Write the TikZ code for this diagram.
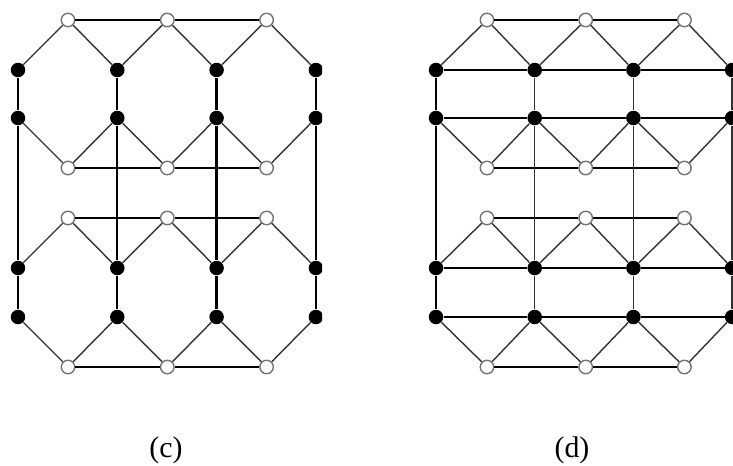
\documentclass[tikz,border=0pt]{standalone}
\usepackage{fontspec}
\usepackage{tikz}
\setmainfont{Liberation Serif}

\begin{document}
\begin{tikzpicture}[x=0.02cm, y=-0.02cm,
					full/.style = {shape=circle, fill=black, inner sep=0pt, minimum size=0.29cm},
					hollow/.style = {shape=circle, draw=black!55, fill=white, line width=0.8pt,
						inner sep=0pt, minimum size=0.27cm},
					bond/.style = {line width=1.3pt},
					slant/.style = {line width=0.8pt, draw=black!80},
					caption/.style = {font=\fontsize{17}{20}\selectfont}]
	\useasboundingbox (0,0) rectangle (733,466);
	% panel (c)
	\begin{scope}
		\clip (0,0) rectangle (322,466);
		\foreach \r/\y in {1/20, 2/168, 3/218, 4/367}
			\foreach \i in {1,2,3}
				\node[hollow] (c-o-\r-\i) at ({68+99.3*(\i-1)}, \y) {};
		\foreach \r/\y in {1/70, 2/118, 3/268, 4/317}
			\foreach \j in {1,...,4}
				\node[full] (c-b-\r-\j) at ({18+99.3*(\j-1)}, \y) {};
		\foreach \r in {1,...,4}
			\draw[bond] (c-o-\r-1) -- (c-o-\r-2) -- (c-o-\r-3);
		\foreach \j in {1,...,4}
			\draw[bond] (c-b-1-\j) -- (c-b-2-\j) -- (c-b-3-\j) -- (c-b-4-\j);
		\foreach \r in {1,...,4}
			\foreach \i/\k in {1/2, 2/3, 3/4}
				\draw[slant] (c-b-\r-\i) -- (c-o-\r-\i) -- (c-b-\r-\k);
	\end{scope}
	% panel (d)
	\begin{scope}
		\clip (400,0) rectangle (733,466);
		\foreach \r/\y in {1/20, 2/168, 3/218, 4/367}
			\foreach \i in {1,2,3}
				\node[hollow] (d-o-\r-\i) at ({487+98.7*(\i-1)}, \y) {};
		\foreach \r/\y in {1/70, 2/118, 3/268, 4/317}
			\foreach \j in {1,...,4}
				\node[full] (d-b-\r-\j) at ({436+98.7*(\j-1)}, \y) {};
		\foreach \r in {1,...,4}
			\draw[bond] (d-o-\r-1) -- (d-o-\r-2) -- (d-o-\r-3);
		\foreach \r in {1,...,4}
			\draw[bond] (d-b-\r-1) -- (d-b-\r-2) -- (d-b-\r-3) -- (d-b-\r-4);
		\draw[bond] (d-b-1-1) -- (d-b-2-1) -- (d-b-3-1) -- (d-b-4-1);
		\foreach \j in {2,3,4}
			\draw[slant] (d-b-1-\j) -- (d-b-2-\j) -- (d-b-3-\j) -- (d-b-4-\j);
		\foreach \r in {1,...,4}
			\foreach \i/\k in {1/2, 2/3, 3/4}
				\draw[slant] (d-b-\r-\i) -- (d-o-\r-\i) -- (d-b-\r-\k);
	\end{scope}
	\node[caption] (c-label) at (166,450) {(c)};
	\node[caption] (d-label) at (572,450) {(d)};
\end{tikzpicture}
\end{document}
